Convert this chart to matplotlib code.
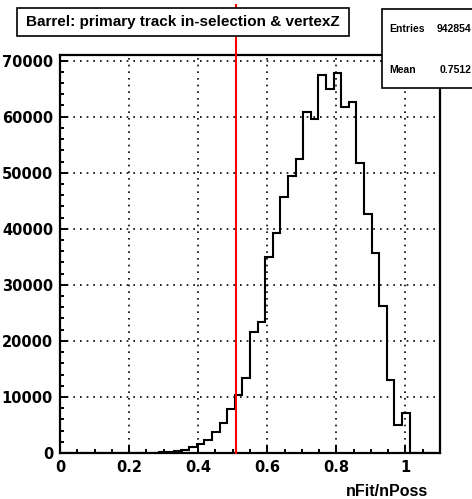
import numpy as np
import matplotlib
matplotlib.use("Agg")
import matplotlib.pyplot as plt
from matplotlib.patches import Rectangle
from matplotlib.ticker import MultipleLocator, FuncFormatter

# histogram: 50 bins from 0 to 1.1
bin_edges = np.linspace(0, 1.1, 51)
counts = [0, 0, 0, 0, 0, 0, 0, 0, 0, 0, 0, 0,
          50, 100, 200, 400, 600, 1000, 1600, 2300, 3800, 5300, 7900, 10300,
          13400, 21500, 23300, 34900, 39300, 45700, 49500, 52400, 60900, 59600,
          67500, 65000, 67700, 61700, 62700, 51800, 42600, 35700, 26300, 13100,
          5000, 7200, 0, 0, 0, 0]
cut_x = 0.51
cut_top = 80000
title = "Barrel: primary track in-selection & vertexZ"
stats_names = ["Entries", "Mean"]
stats_values = ["942854", "0.7512"]

plt.rcParams['font.family'] = ['Liberation Sans', 'DejaVu Sans']
plt.rcParams['font.weight'] = 'bold'

W, H = 472, 499
fig = plt.figure(figsize=(W / 100, H / 100), dpi=100)
ax = fig.add_axes([60 / W, 46 / H, 380 / W, 398 / H])

ax.stairs(counts, bin_edges, color='black', lw=1.5, baseline=0)
ax.plot([cut_x, cut_x], [0, cut_top], color='red', lw=1.5, clip_on=False, zorder=3)

ax.set_xlim(0, 1.1)
ax.set_ylim(0, 71000)
ax.xaxis.set_major_locator(MultipleLocator(0.2))
ax.xaxis.set_minor_locator(MultipleLocator(0.05))
ax.yaxis.set_major_locator(MultipleLocator(10000))
ax.yaxis.set_minor_locator(MultipleLocator(2000))
ax.xaxis.set_major_formatter(FuncFormatter(lambda v, p: '%g' % round(v, 3)))
ax.yaxis.set_major_formatter(FuncFormatter(lambda v, p: '%d' % v))
ax.tick_params(which='both', direction='in', top=False, right=False, width=1.4,
               labelsize=10.5, pad=5)
ax.tick_params(which='major', length=6)
ax.tick_params(which='minor', length=3.2)
for lab in ax.get_xticklabels() + ax.get_yticklabels():
    lab.set_fontweight('bold')
    lab.set_family('DejaVu Sans')
for s in ax.spines.values():
    s.set_linewidth(1.6)

ax.grid(True, which='major', color='black', lw=1.2, linestyle=(0, (1, 3)))
ax.set_axisbelow(True)

fig.text(428 / W, 1 - 491.5 / H, 'nFit/nPoss', ha='right', va='center',
         fontsize=11.5, fontweight='bold')

# title box
fig.patches.append(Rectangle((17 / W, 1 - 35.5 / H), 332 / W, 27.5 / H,
                             transform=fig.transFigure, facecolor='white',
                             edgecolor='black', lw=1.2, zorder=5))
fig.text(183 / W, 1 - 22 / H, title, ha='center', va='center',
         fontsize=11, fontweight='bold', zorder=6)

# stats box
fig.patches.append(Rectangle((382 / W, 1 - 88 / H), 100 / W, 79.5 / H,
                             transform=fig.transFigure, facecolor='white',
                             edgecolor='black', lw=1.2, zorder=5))
for name, val, yy in zip(stats_names, stats_values, [29, 70]):
    fig.text(389 / W, 1 - yy / H, name, ha='left', va='center',
             fontsize=7.5, fontweight='bold', zorder=6)
    fig.text(471 / W, 1 - yy / H, val, ha='right', va='center',
             fontsize=7.5, fontweight='bold', zorder=6)

fig.savefig('out.png', dpi=100)
